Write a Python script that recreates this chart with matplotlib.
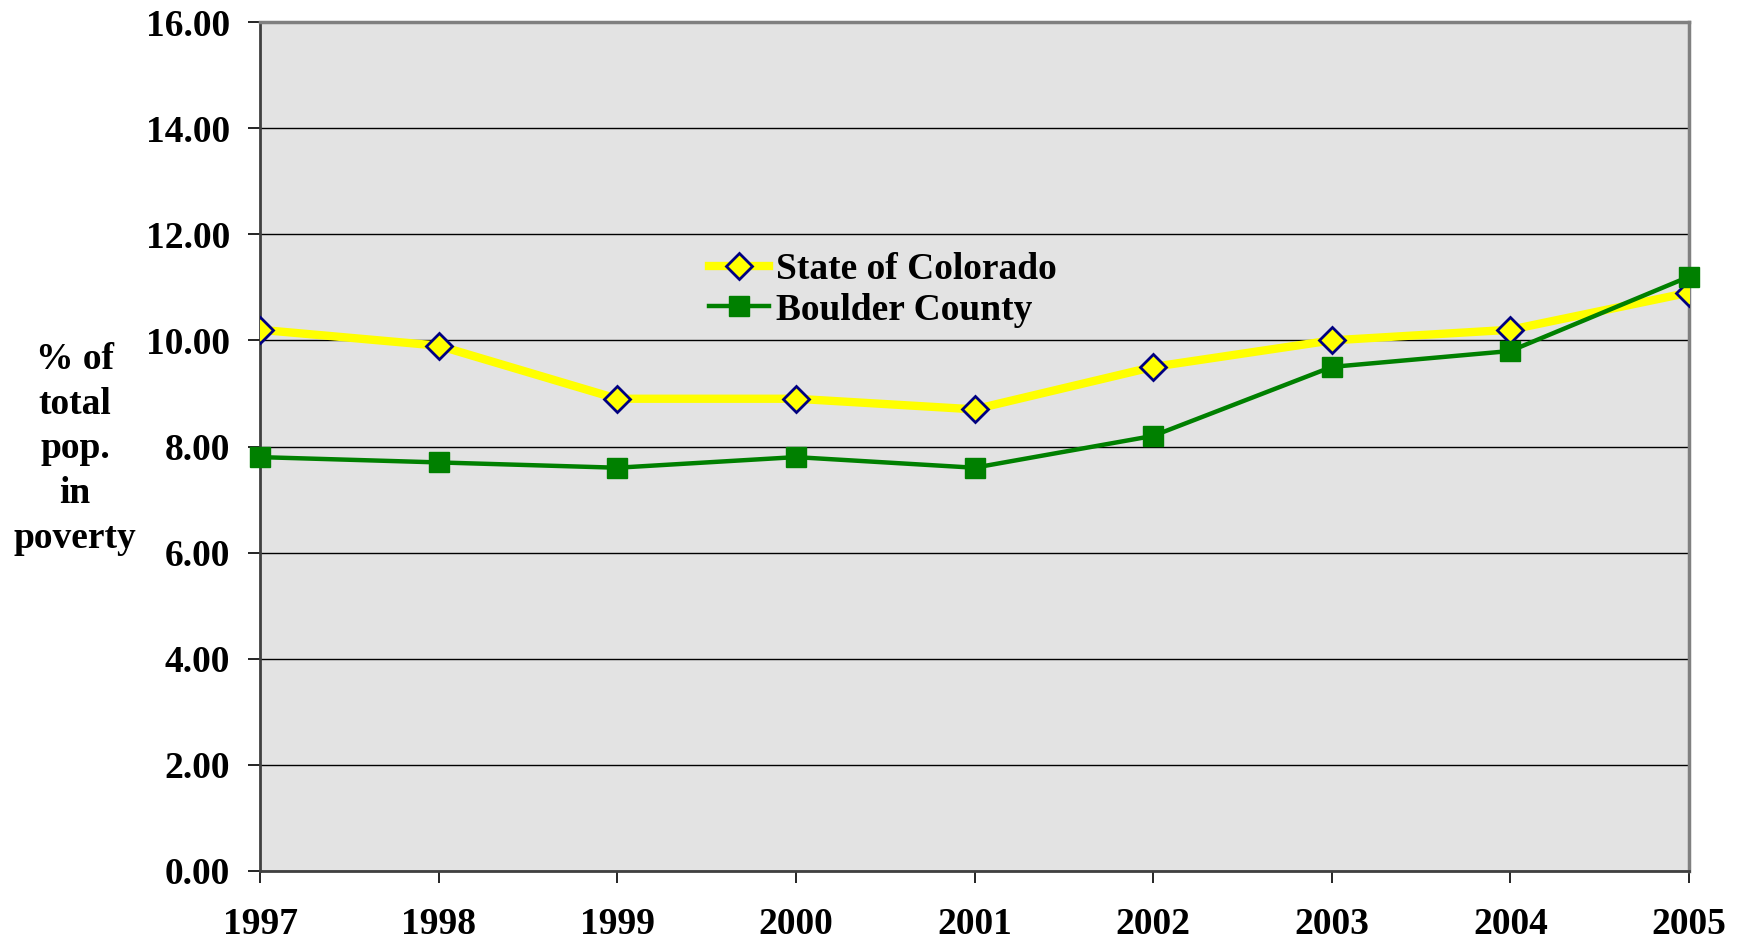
import matplotlib
matplotlib.use("Agg")
import matplotlib.pyplot as plt

years = [1997, 1998, 1999, 2000, 2001, 2002, 2003, 2004, 2005]
colorado = [10.2, 9.9, 8.9, 8.9, 8.7, 9.5, 10.0, 10.2, 10.9]
boulder = [7.8, 7.7, 7.6, 7.8, 7.6, 8.2, 9.5, 9.8, 11.2]
yticks = [0, 2, 4, 6, 8, 10, 12, 14, 16]

plt.rcParams['font.family'] = ['Liberation Serif', 'DejaVu Serif']
plt.rcParams['font.weight'] = 'bold'

fig = plt.figure(figsize=(17.4, 9.44), dpi=100)
ax = fig.add_axes([260/1740, 1-871/944, (1689-260)/1740, (871-22)/944])
ax.set_facecolor('#e3e3e3')

ax.plot(years, colorado, color='#ffff00', lw=6, marker='D', markersize=13,
        markerfacecolor='#ffff00', markeredgecolor='#000080', markeredgewidth=2,
        label='State of Colorado', zorder=3)
ax.plot(years, boulder, color='#008000', lw=3.2, marker='s', markersize=14,
        markerfacecolor='#008000', markeredgecolor='#008000',
        label='Boulder County', zorder=4, clip_on=False)

ax.set_xlim(years[0], years[-1])
ax.set_ylim(0, 16)
ax.set_yticks(yticks)
ax.set_yticklabels([f"{v:.2f}" for v in yticks])
ax.set_xticks(years)
ax.set_xticklabels([str(y) for y in years])
ax.yaxis.grid(True, color='black', lw=1)
ax.set_axisbelow(True)

ax.tick_params(axis='y', direction='out', length=8.6, width=1.2, pad=13,
               labelsize=27, colors='black')
ax.tick_params(axis='x', direction='out', length=8.6, width=1.2, pad=17,
               labelsize=27, colors='black')
for lab in ax.get_xticklabels() + ax.get_yticklabels():
    lab.set_fontweight('bold')

ax.spines['left'].set_color('#404040')
ax.spines['left'].set_linewidth(2)
ax.spines['bottom'].set_color('#404040')
ax.spines['bottom'].set_linewidth(2)
ax.spines['right'].set_color('#808080')
ax.spines['right'].set_linewidth(2.5)
ax.spines['top'].set_color('#808080')
ax.spines['top'].set_linewidth(2.5)

fig.text(75/1740, 1-449/944, "% of\ntotal\npop.\nin\npoverty", ha='center', va='center',
         fontsize=27, fontweight='bold', linespacing=1.37)

leg = ax.legend(loc='upper left', bbox_to_anchor=((709-260)/(1689-260), 1-(252-22)/(871-22)),
                frameon=False, fontsize=27, handlelength=1.6, handletextpad=0.2,
                labelspacing=0.15, borderaxespad=0, borderpad=0)
for t in leg.get_texts():
    t.set_fontweight('bold')

fig.savefig('out.png', dpi=100, facecolor='white')
